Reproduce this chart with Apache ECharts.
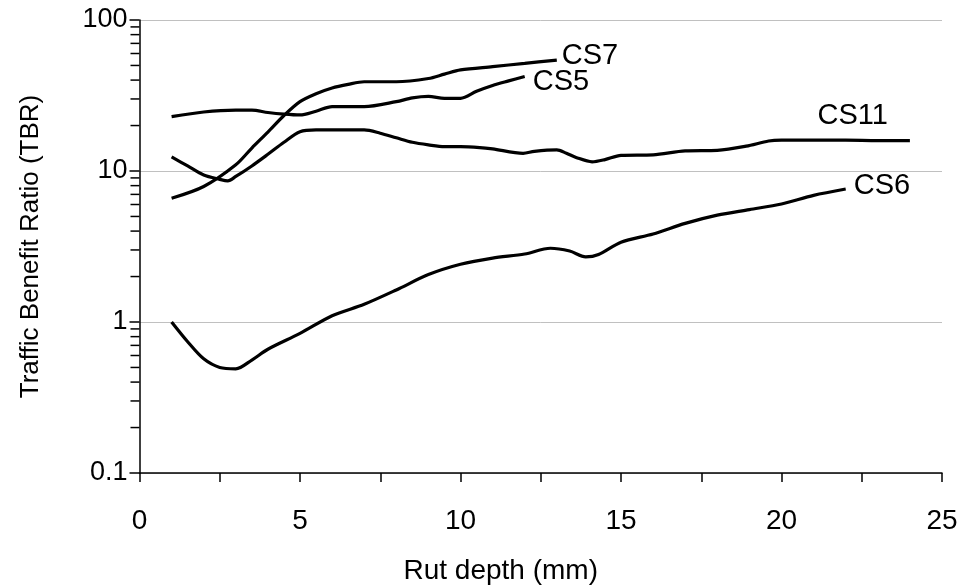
<!DOCTYPE html>
<html>
<head>
<meta charset="utf-8">
<script src="https://cdn.jsdelivr.net/npm/echarts@6/dist/echarts.min.js"></script>
<style>
  html, body { margin: 0; padding: 0; background: #ffffff; }
  #chart { width: 962px; height: 588px; }
</style>
</head>
<body>
<div id="chart"></div>
<script>
// Rut depth (mm) and Traffic Benefit Ratio readings for each test section
const cs7Depth = [1, 2, 3, 3.5, 4, 4.5, 5, 5.5, 6, 6.5, 7, 8, 9, 9.5, 10, 11, 12, 13];
const cs7Tbr   = [6.6, 7.9, 11, 14.2, 18.1, 23.3, 28.8, 32.5, 35.5, 37.5, 39, 39, 41, 43.8, 46.7, 49.1, 51.6, 54.3];

const cs5Depth = [1, 2, 3, 3.5, 4, 4.5, 5, 5.5, 6, 7, 8, 8.5, 9, 9.5, 10, 10.5, 11, 11.5, 12];
const cs5Tbr   = [22.9, 24.6, 25.3, 25.3, 24.4, 23.8, 23.5, 24.9, 26.7, 26.7, 28.8, 30.5, 31.2, 30.3, 30.3, 33.7, 36.8, 39.5, 42.3];

const cs11Depth = [1, 1.5, 2, 2.5, 2.75, 3, 3.5, 4, 4.5, 5, 5.5, 6, 7, 7.5, 8, 8.5, 9, 9.5, 10, 10.6, 11, 11.95, 12.3, 13, 13.3, 13.6, 14.1, 14.5, 15, 16, 17, 18, 18.9, 19.6, 20, 21, 22, 23, 24];
const cs11Tbr   = [12.4, 10.8, 9.4, 8.8, 8.6, 9.2, 10.8, 12.9, 15.5, 18.2, 18.7, 18.7, 18.7, 17.8, 16.6, 15.5, 14.9, 14.5, 14.5, 14.3, 14.0, 13.1, 13.5, 13.8, 13.1, 12.3, 11.5, 11.9, 12.7, 12.8, 13.6, 13.7, 14.6, 15.8, 16.0, 16.0, 16.0, 15.9, 15.9];

const cs6Depth = [1, 1.5, 2, 2.5, 3, 3.5, 4, 5, 6, 7, 8, 9, 10, 11, 12, 12.8, 13.4, 13.9, 14.3, 15, 16, 17, 18, 19, 20, 21, 22];
const cs6Tbr   = [1.0, 0.74, 0.57, 0.5, 0.49, 0.56, 0.66, 0.84, 1.1, 1.31, 1.63, 2.06, 2.41, 2.65, 2.82, 3.08, 2.95, 2.7, 2.8, 3.38, 3.83, 4.5, 5.1, 5.55, 6.05, 6.9, 7.6];

// Intermediate ticks of each decade on the logarithmic axis
const minorTickValues = [0.2, 0.3, 0.4, 0.5, 0.6, 0.7, 0.8, 0.9,
                         2, 3, 4, 5, 6, 7, 8, 9,
                         20, 30, 40, 50, 60, 70, 80, 90];

const FONT = '"Liberation Sans", Arial, sans-serif';

function pairs(xs, ys) {
  return xs.map((x, i) => [x, ys[i]]);
}

function curve(name, xs, ys, labelDistance, labelOffset, labelAlign) {
  return {
    name: name,
    type: 'line',
    data: pairs(xs, ys),
    showSymbol: false,
    smooth: 0.3,
    lineStyle: { color: '#000000', width: 3.2 },
    itemStyle: { color: '#000000' },
    emphasis: { disabled: true },
    endLabel: {
      show: true,
      formatter: name,
      color: '#000000',
      fontFamily: FONT,
      fontSize: 29,
      distance: labelDistance,
      align: labelAlign || 'left',
      offset: labelOffset
    },
    z: 3
  };
}

const chart = echarts.init(document.getElementById('chart'), null, { renderer: 'canvas' });

chart.setOption({
  animation: false,
  backgroundColor: '#ffffff',
  grid: { left: 139.5, right: 20, top: 20, bottom: 115, outerBoundsMode: 'none', containLabel: false },
  xAxis: {
    type: 'value',
    min: 0,
    max: 25,
    interval: 5,
    name: 'Rut depth (mm)',
    nameLocation: 'middle',
    nameGap: 84,
    nameTextStyle: { color: '#000000', fontFamily: FONT, fontSize: 28, padding: [0, 80, 0, 0] },
    axisLine: { show: true, onZero: false, lineStyle: { color: '#000000', width: 1.5 } },
    axisTick: { show: true, inside: false, length: 9, lineStyle: { color: '#000000', width: 1.5 } },
    minorTick: { show: true, splitNumber: 2, length: 9, lineStyle: { color: '#000000', width: 1.5 } },
    axisLabel: { color: '#000000', fontFamily: FONT, fontSize: 28, margin: 34 },
    splitLine: { show: false }
  },
  yAxis: {
    type: 'log',
    logBase: 10,
    min: 0.1,
    max: 100,
    name: 'Traffic Benefit Ratio (TBR)',
    nameLocation: 'middle',
    nameGap: 96,
    nameTextStyle: { color: '#000000', fontFamily: FONT, fontSize: 26 },
    axisLine: { show: true, lineStyle: { color: '#000000', width: 1.5 } },
    axisTick: { show: true, inside: false, length: 10, lineStyle: { color: '#000000', width: 1.5 } },
    axisLabel: {
      color: '#000000', fontFamily: FONT, fontSize: 27, margin: 12,
      formatter: function (v) { return String(Number(v.toPrecision(3))); }
    },
    splitLine: { show: true, lineStyle: { color: '#c0c0c0', width: 1 } }
  },
  series: [
    curve('CS7', cs7Depth, cs7Tbr, 5, [0, -4]),
    curve('CS5', cs5Depth, cs5Tbr, 8, [0, 6]),
    curve('CS11', cs11Depth, cs11Tbr, 5, [-27, -25], 'right'),
    curve('CS6', cs6Depth, cs6Tbr, 8, [0, -3]),
    {
      // short outward ticks at 2..9 of every decade on the y axis
      type: 'custom',
      silent: true,
      clip: false,
      data: minorTickValues.map(v => [0, v]),
      renderItem: function (params, api) {
        const p = api.coord([0, api.value(1)]);
        return {
          type: 'line',
          shape: { x1: p[0] - 9, y1: p[1], x2: p[0], y2: p[1] },
          style: { stroke: '#000000', lineWidth: 1.5 }
        };
      },
      z: 4
    }
  ]
});
</script>
</body>
</html>
